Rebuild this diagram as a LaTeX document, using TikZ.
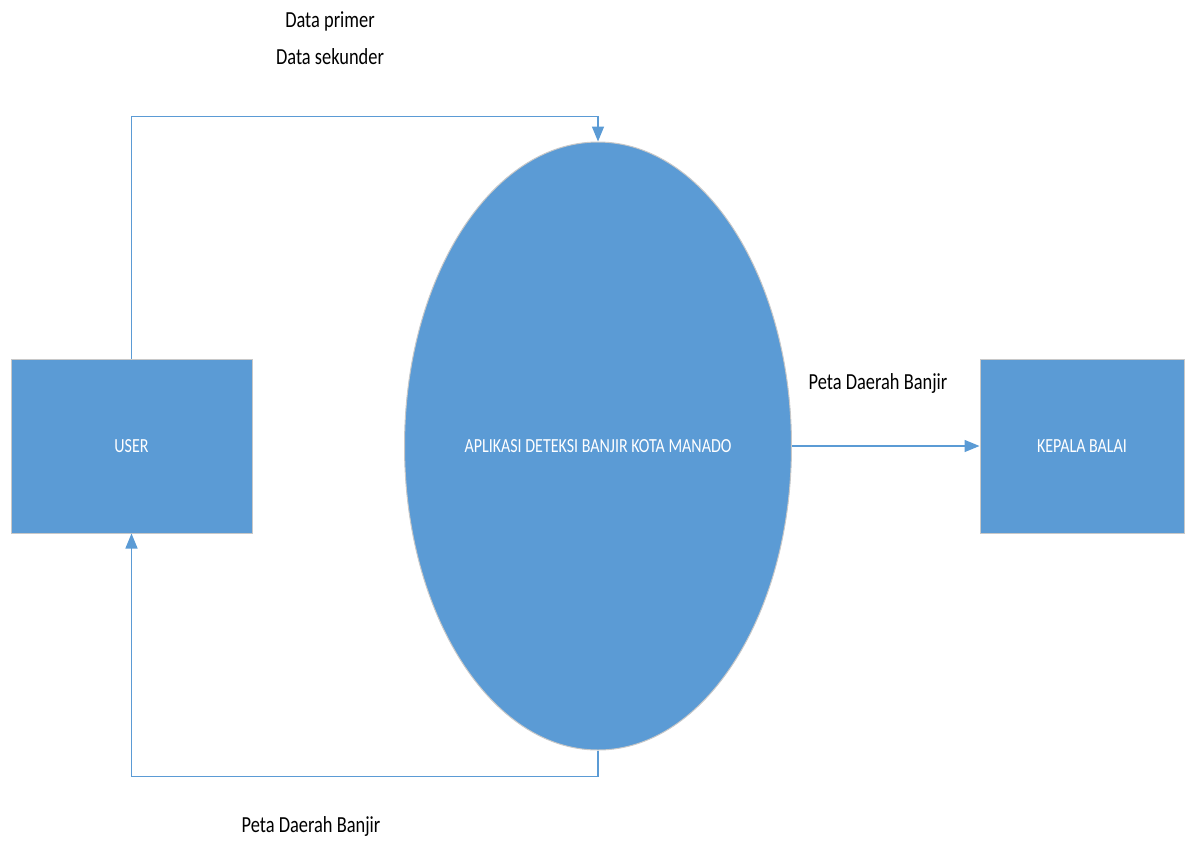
\documentclass[tikz,border=0pt]{standalone}
\usepackage{fontspec}
\setmainfont{Carlito}[FakeStretch=0.8]
\usepackage{tikz}
\usetikzlibrary{arrows.meta, positioning, shapes.geometric}
\definecolor{dfdblue}{HTML}{5B9BD5}
\definecolor{dfdedge}{HTML}{C8C8C8}
\tikzset{
  x=1pt, y=-1pt,
  entity/.style={rectangle, draw=dfdedge, line width=1pt, fill=dfdblue, text=white,
    minimum height=174pt, font=\fontsize{20}{24}\selectfont},
  process/.style={ellipse, draw=dfdedge, line width=1pt, fill=dfdblue, text=white,
    minimum width=376pt, minimum height=608pt, font=\fontsize{20}{24}\selectfont},
  flow/.style={draw=dfdblue, line width=1.5pt, -{Triangle[length=15pt,width=12pt]}},
  lbl/.style={font=\fontsize{23}{37}\selectfont, align=center}
}
\begin{document}
\begin{tikzpicture}
\useasboundingbox (0,0) rectangle (1190,841);
% entities and process
\node[entity, minimum width=241pt] (user) at (131.5,446) {USER};
\node[process] (app) at (598,446) {APLIKASI DETEKSI BANJIR KOTA MANADO};
\node[entity, minimum width=204pt] (kepala) at (1082,446) {KEPALA BALAI};
% data flows
\draw[flow] (user.north) -- ++(0,-242) -| (app.north);
\draw[flow] (app.south) -- ++(0,26) -| (user.south);
\draw[flow] (app.east) -- (kepala.west);
% labels
\node[lbl] (datain) at (330,38.5) {Data primer\\Data sekunder};
\node[lbl] (petakb) at (878,383) {Peta Daerah Banjir};
\node[lbl] (petauser) at (311,826) {Peta Daerah Banjir};
\end{tikzpicture}
\end{document}
